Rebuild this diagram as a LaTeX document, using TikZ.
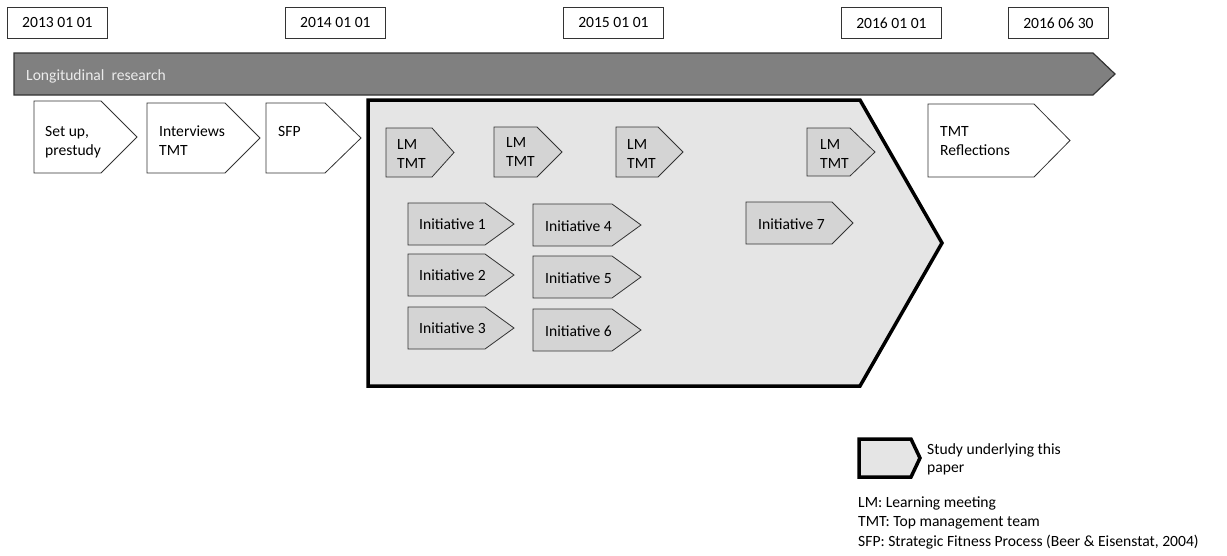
\documentclass[tikz,border=0pt]{standalone}
\usepackage{fontspec}
\setmainfont{Carlito}
\tikzset{
  x=1pt, y=-1pt,
  datebox/.style={draw=black!80, line width=0.8pt, minimum width=100pt, minimum height=31pt, inner sep=0pt, anchor=north west, font=\fontsize{15.6}{19}\selectfont},
  barshape/.style={fill=black!50, draw=black!80, line width=1.2pt, line join=miter},
  whiteshape/.style={fill=white, draw=black!80, line width=0.8pt},
  studyshape/.style={fill=black!10, draw=black, line width=3.5pt, line join=miter},
  greyshape/.style={fill=black!17, draw=black!80, line width=0.8pt},
  lbl/.style={anchor=base west, inner sep=0pt, align=left, font=\fontsize{15.6}{19}\selectfont},
}
% #1 style, #2 left, #3 top, #4 tip start, #5 tip, #6 bottom
\newcommand\pentbox[6]{%
  \draw[#1] (#2,#3) -- (#4,#3) -- (#5,{(#3+#6)/2}) -- (#4,#6) -- (#2,#6) -- cycle;}
\begin{document}
\begin{tikzpicture}
\useasboundingbox (0,0) rectangle (1227,555);
% dates
\node[datebox] (d1) at (7,7) {2013 01 01};
\node[datebox] (d2) at (285,7) {2014 01 01};
\node[datebox] (d3) at (563,7) {2015 01 01};
\node[datebox] (d4) at (841,7) {2016 01 01};
\node[datebox] (d5) at (1008,7) {2016 06 30};
% longitudinal bar
\pentbox{barshape}{14}{53}{1093}{1115}{95}
\node[lbl, text=black!8] (lr) at (26,80) {Longitudinal\ \ research};
% early phases (anchor = baseline of last line)
\pentbox{whiteshape}{34}{101}{101}{137}{173}
\node[lbl] (setup) at (45,155) {Set up,\\prestudy};
\pentbox{whiteshape}{147}{103}{225}{260}{173}
\node[lbl] (interv) at (159,155) {Interviews\\TMT};
\pentbox{whiteshape}{266}{103}{325}{361}{173}
\node[lbl] (sfp) at (278,136) {SFP};
% study
\pentbox{studyshape}{368}{100}{860}{942}{386}
% LM TMT
\pentbox{greyshape}{386}{128}{432}{454}{177}
\node[lbl] (lm1) at (397,168) {LM\\TMT};
\pentbox{greyshape}{494}{127}{537}{562}{177}
\node[lbl] (lm2) at (506,166) {LM\\TMT};
\pentbox{greyshape}{616}{127}{658}{683}{177}
\node[lbl] (lm3) at (627,168) {LM\\TMT};
\pentbox{greyshape}{807}{128}{850}{875}{176}
\node[lbl] (lm4) at (820,168) {LM\\TMT};
% initiatives
\pentbox{greyshape}{408}{203}{485}{514}{245}
\node[lbl] (i1) at (419,229) {Initiative 1};
\pentbox{greyshape}{408}{254}{485}{514}{296}
\node[lbl] (i2) at (419,280) {Initiative 2};
\pentbox{greyshape}{408}{307}{485}{514}{349}
\node[lbl] (i3) at (419,333) {Initiative 3};
\pentbox{greyshape}{533}{204}{612}{641}{246}
\node[lbl] (i4) at (545,231) {Initiative 4};
\pentbox{greyshape}{533}{256}{612}{641}{298}
\node[lbl] (i5) at (545,283) {Initiative 5};
\pentbox{greyshape}{533}{309}{612}{641}{351}
\node[lbl] (i6) at (545,336) {Initiative 6};
\pentbox{greyshape}{746}{202}{832}{853}{244}
\node[lbl] (i7) at (758,229) {Initiative 7};
% TMT reflections
\pentbox{whiteshape}{928}{104}{1034}{1070}{177}
\node[lbl] (refl) at (940,155) {TMT\\Reflections};
% legend
\pentbox{studyshape}{859}{439}{911}{920}{477}
\node[lbl, font=\fontsize{15.6}{17.5}\selectfont] (leg) at (927,472) {Study underlying this\\paper};
\node[lbl, font=\fontsize{15.6}{19.5}\selectfont] (abbr) at (858,546) {LM: Learning meeting\\TMT: Top management team\\SFP: Strategic Fitness Process (Beer \& Eisenstat, 2004)};
\end{tikzpicture}
\end{document}
